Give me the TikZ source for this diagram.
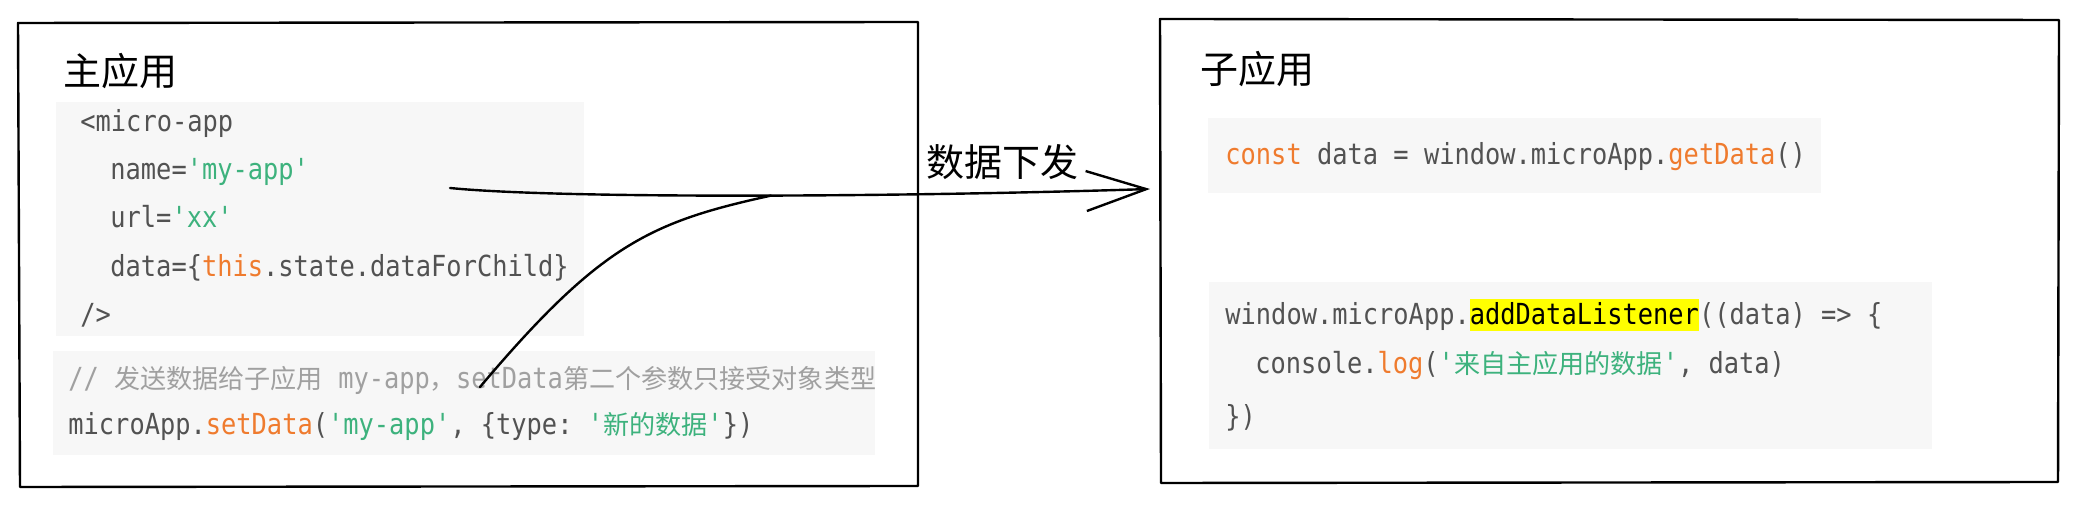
\documentclass[tikz,border=0pt]{standalone}
\usepackage{fontspec}
\setmainfont{Noto Sans CJK SC}
\setmonofont[FakeStretch=0.875]{DejaVu Sans Mono}
\newfontfamily\cjkcode[Scale=0.9]{Noto Sans CJK SC}
\usetikzlibrary{arrows.meta}

\definecolor{codebg}{HTML}{F7F7F7}
\definecolor{codefg}{HTML}{525252}
\definecolor{codecmt}{HTML}{A0A0A0}
\definecolor{codekw}{HTML}{EF7B2E}
\definecolor{codestr}{HTML}{3DB27D}
\definecolor{codehl}{HTML}{FFFF00}

\newcommand\codekey[1]{\textcolor{codekw}{#1}}
\newcommand\codestring[1]{\textcolor{codestr}{#1}}
\newcommand\codecjk[1]{{\cjkcode #1}}
\newcommand\codemark[1]{{\setlength\fboxsep{0pt}\colorbox{codehl}{\rule[-3pt]{0pt}{16pt}\textcolor{black}{#1}}}}

\tikzset{
  panel/.style={line width=1.2pt, line join=round},
  codebox/.style={fill=codebg, draw=none},
  codeline/.style={anchor=base west, inner sep=0pt, text=codefg, font=\fontsize{14.5pt}{17pt}\selectfont\ttfamily},
  heading/.style={anchor=base west, inner sep=0pt, font=\fontsize{19pt}{22pt}\selectfont},
  flow/.style={line width=1.2pt, line cap=round},
}

\begin{document}
\begin{tikzpicture}[x=0.5pt, y=-0.5pt]
  \useasboundingbox (0,0) rectangle (2077,506);

  % main app
  \draw[panel] (18,23) -- (918,22) -- (918,486) -- (20,487) -- cycle;
  \node[heading] (mainTitle) at (63,86) {主应用};

  \fill[codebox] (56,102) rectangle (584,336);
  \node[codeline] (tag) at (80,132) {<micro-app};
  \node[codeline] (name) at (110,180) {name=\codestring{'my-app'}};
  \node[codeline] (url) at (110,228) {url=\codestring{'xx'}};
  \node[codeline] (data) at (110,277) {data=\{\codekey{this}.state.dataForChild\}};
  \node[codeline] (close) at (80,325) {/>};

  \fill[codebox] (53,351) rectangle (875,455);
  \node[codeline, text=codecmt] (comment) at (68,389) {// \codecjk{发送数据给子应用} my-app\codecjk{，}setData\codecjk{第二个参数只接受对象类型}};
  \node[codeline] (send) at (68,435) {microApp.\codekey{setData}(\codestring{'my-app'}, \{type: \codestring{'\codecjk{新的数据}'}\})};

  % child app
  \draw[panel] (1160,19) -- (2059,20) -- (2058,482) -- (1161,483) -- cycle;
  \node[heading] (childTitle) at (1200,84) {子应用};

  \fill[codebox] (1208,118) rectangle (1821,193);
  \node[codeline] (get) at (1225,165) {\codekey{const} data = window.microApp.\codekey{getData}()};

  \fill[codebox] (1209,282) rectangle (1932,449);
  \node[codeline] (listen) at (1225,325) {window.microApp.\codemark{addDataListener}((data) => \{};
  \node[codeline] (log) at (1255,374) {console.\codekey{log}(\codestring{'\codecjk{来自主应用的数据}'}, data)};
  \node[codeline] (closing) at (1225,427) {\})};

  % data flow
  \coordinate (src) at (450,188);
  \coordinate (tip) at (1150,189);
  \coordinate (side) at (480,387);
  \draw[flow, -{Straight Barb[length=30pt, width=20pt]}] (src) .. controls (560,199) and (900,197) .. (tip) coordinate[pos=0.53] (join);
  \draw[flow] (side) .. controls (600,245) and (650,222) .. (join);
  \node[heading] (label) at (926,177) {数据下发};
\end{tikzpicture}
\end{document}
